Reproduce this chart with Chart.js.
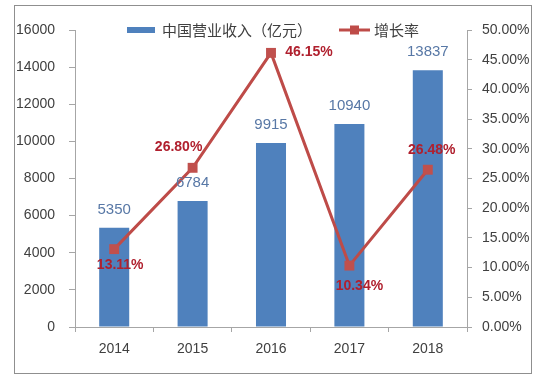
<!DOCTYPE html>
<html><head><meta charset="utf-8">
<script src="https://cdn.jsdelivr.net/npm/chart.js@4/dist/chart.umd.min.js"></script>
<style>
html,body{margin:0;padding:0;background:#fff;}
#wrap{position:absolute;left:14px;top:5px;width:516px;height:367px;border:1px solid #8f8f8f;}
canvas{display:block;}
</style></head>
<body>
<div id="wrap"><canvas id="c" width="516" height="367"></canvas></div>
<script>
const categories = ['2014','2015','2016','2017','2018'];
const revenue = [5350, 6784, 9915, 10940, 13837];
const growth = [13.11, 26.80, 46.15, 10.34, 26.48];
const revenueLabel = '中国营业收入（亿元）';
const growthLabel = '增长率';
const leftTicks = {min:0, max:16000, step:2000};
const rightTicks = {min:0, max:50, step:5};

// label placement offsets (style only)
const growthLabelOffsets = [[6,16],[-14,-21],[38,-1],[10,21],[4,-20]];

const NUM_FONT = '"Liberation Sans", Arial, sans-serif';
const CJK_FONT = '"Noto Sans CJK SC", sans-serif';
const BAR_COLOR = '#4f81bd';
const LINE_COLOR = '#be4b48';
const AXIS_COLOR = '#a6a6a6';
const TEXT_COLOR = '#404040';

const labelPlugin = {
  id: 'labels',
  afterDatasetsDraw(chart) {
    const ctx = chart.ctx;
    ctx.save();
    // bar labels
    const bm = chart.getDatasetMeta(0);
    ctx.font = '15px ' + NUM_FONT;
    ctx.fillStyle = '#5878a6';
    ctx.textAlign = 'center';
    ctx.textBaseline = 'middle';
    bm.data.forEach((el, i) => {
      ctx.fillText(String(revenue[i]), el.x, el.y - 18);
    });
    // line labels
    const lm = chart.getDatasetMeta(1);
    ctx.font = 'bold 14px ' + NUM_FONT;
    ctx.fillStyle = '#b0202e';
    lm.data.forEach((el, i) => {
      const o = growthLabelOffsets[i];
      ctx.fillText(growth[i].toFixed(2) + '%', el.x + o[0], el.y + o[1]);
    });
    // legend
    const ca = chart.chartArea;
    const y = ca.top;
    let x = ca.left + 52;
    ctx.fillStyle = BAR_COLOR;
    ctx.fillRect(x, y - 3, 28, 6);
    x += 35;
    ctx.font = '15px ' + CJK_FONT;
    ctx.fillStyle = TEXT_COLOR;
    ctx.textAlign = 'left';
    ctx.fillText(revenueLabel, x, y);
    x += ctx.measureText(revenueLabel).width + 27;
    ctx.strokeStyle = LINE_COLOR;
    ctx.lineWidth = 3;
    ctx.beginPath(); ctx.moveTo(x, y); ctx.lineTo(x + 31, y); ctx.stroke();
    ctx.fillStyle = LINE_COLOR;
    ctx.fillRect(x + 15.5 - 4.5, y - 4.5, 9, 9);
    x += 35;
    ctx.fillStyle = TEXT_COLOR;
    ctx.fillText(growthLabel, x, y);
    ctx.restore();
  }
};

new Chart(document.getElementById('c'), {
  data: {
    labels: categories,
    datasets: [
      {type:'bar', label: revenueLabel, data: revenue, backgroundColor: BAR_COLOR,
       yAxisID:'y', order: 2, categoryPercentage: 1, barPercentage: 0.383},
      {type:'line', label: growthLabel, data: growth, borderColor: LINE_COLOR, backgroundColor: LINE_COLOR,
       borderWidth: 3, pointStyle:'rect', pointRadius: 7, pointHoverRadius: 7,
       pointBackgroundColor:'#c0504d', pointBorderWidth:0, tension:0, yAxisID:'y1', order: 1}
    ]
  },
  options: {
    responsive: false,
    animation: false,
    devicePixelRatio: 1,
    layout: {padding: {top: 24, left: 0, right: 0, bottom: 0}},
    plugins: {legend:{display:false}, tooltip:{enabled:false}},
    scales: {
      x: {
        grid: {display:true, drawOnChartArea:false, color: AXIS_COLOR, tickLength: 5, offset: true},
        border: {color: AXIS_COLOR},
        ticks: {color: TEXT_COLOR, font:{family: NUM_FONT, size: 14}, padding: 9, maxRotation: 0},
        afterFit(s){ s.height = 46; }
      },
      y: {
        position:'left', min: leftTicks.min, max: leftTicks.max,
        grid: {display:true, drawOnChartArea:false, color: AXIS_COLOR, tickLength: 6},
        border: {color: AXIS_COLOR},
        ticks: {stepSize: leftTicks.step, color: TEXT_COLOR, font:{family: NUM_FONT, size: 14}, padding: 14,
                callback: v => String(v)},
        afterFit(s){ s.width = 60; }
      },
      y1: {
        position:'right', min: rightTicks.min, max: rightTicks.max,
        grid: {display:true, drawOnChartArea:false, color: AXIS_COLOR, tickLength: 5},
        border: {color: AXIS_COLOR},
        ticks: {stepSize: rightTicks.step, color: TEXT_COLOR, font:{family: NUM_FONT, size: 14}, padding: 10,
                callback: v => Number(v).toFixed(2) + '%'},
        afterFit(s){ s.width = 64; }
      }
    }
  },
  plugins: [labelPlugin]
});
</script>
</body></html>
